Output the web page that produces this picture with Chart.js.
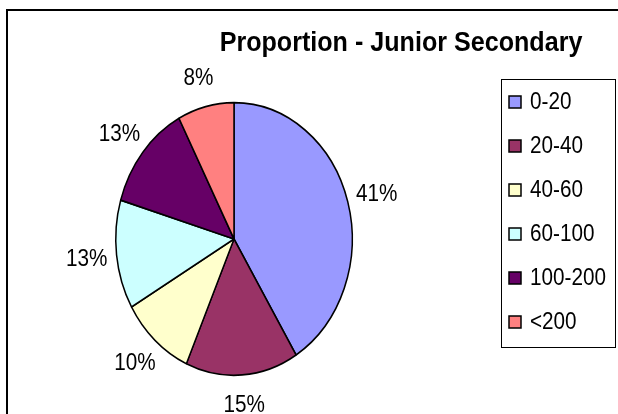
<!DOCTYPE html>
<html>
<head>
<meta charset="utf-8">
<script src="https://cdn.jsdelivr.net/npm/chart.js@4/dist/chart.umd.min.js"></script>
<style>
  html, body { margin: 0; padding: 0; background: #fff; overflow: hidden; }
  #frame
  {
    position: absolute; left: 6px; top: 9px; width: 700px; height: 500px;
    border: 2px solid #000; box-sizing: border-box;
  }
  #grafica { position: absolute; left: 0; top: 0; }
</style>
</head>
<body>
<div id="frame"></div>
<canvas id="grafica" width="618" height="414"></canvas>
<script>
'use strict'

//datos de la grafica
const titulo = 'Proportion - Junior Secondary';
const categorias = [ '0-20', '20-40', '40-60', '60-100', '100-200', '<200' ];
const valores = [ 41.2, 15.4, 10.1, 12.9, 12.7, 7.7 ];
const colores = [ '#9999FF', '#993366', '#FFFFCC', '#CCFFFF', '#660066', '#FF8080' ];

//el pastel es una elipse: escala vertical
const escalaY = 136 / 118;
const fuente = '"Liberation Sans", Arial, sans-serif';

//texto un poco angosto, como en el original
function texto( ctx, str, x, y, escalaX )
{
  ctx.save( );
  ctx.translate( x, y );
  ctx.scale( escalaX, 1 );
  ctx.fillText( str, 0, 0 );
  ctx.restore( );
}

//estiramos el pastel verticalmente
const elipse =
{
  id: 'elipse',
  beforeDatasetsDraw( chart )
  {
    const arco = chart.getDatasetMeta( 0 ).data[ 0 ];
    const ctx = chart.ctx;
    ctx.save( );
    ctx.translate( arco.x, arco.y );
    ctx.scale( 1, escalaY );
    ctx.translate( -arco.x, -arco.y );
  },
  afterDatasetsDraw( chart )
  {
    chart.ctx.restore( );
  }
};

//titulo, porcentajes y leyenda
const textos =
{
  id: 'textos',
  afterDraw( chart )
  {
    const ctx = chart.ctx;
    const total = valores.reduce( ( a, b ) => a + b, 0 );
    ctx.save( );
    ctx.fillStyle = '#000';

    //titulo
    ctx.font = 'bold 27px ' + fuente;
    ctx.textAlign = 'center';
    ctx.textBaseline = 'middle';
    texto( ctx, titulo, 401, 44, 0.93 );

    //porcentajes fuera de cada rebanada
    ctx.font = '23px ' + fuente;
    chart.getDatasetMeta( 0 ).data.forEach( ( arco, i ) =>
    {
      const medio = ( arco.startAngle + arco.endAngle ) / 2;
      const d = 30;
      const x = arco.x + ( arco.outerRadius + d ) * Math.cos( medio );
      const y = arco.y + ( arco.outerRadius * escalaY + d ) * Math.sin( medio );
      const pct = Math.round( valores[ i ] / total * 100 ) + '%';
      texto( ctx, pct, x, y + 1, 0.9 );
    });

    //leyenda
    ctx.strokeStyle = '#000';
    ctx.lineWidth = 1;
    ctx.strokeRect( 501.5, 79.5, 114, 268 );
    ctx.textAlign = 'left';
    categorias.forEach( ( cat, i ) =>
    {
      const y = 102 + i * 44;
      ctx.fillStyle = colores[ i ];
      ctx.fillRect( 509, y - 6, 12, 12 );
      ctx.lineWidth = 1.5;
      ctx.strokeRect( 509, y - 6, 12, 12 );
      ctx.fillStyle = '#000';
      texto( ctx, cat, 530, y + 1, 0.9 );
    });

    ctx.restore( );
  }
};

//creación de la grafica
const grafica = new Chart( document.getElementById( 'grafica' ),
{
  type: 'pie',
  data:
  {
    labels: categorias,
    datasets:
    [
      {
        data: valores,
        backgroundColor: colores,
        borderColor: '#000',
        borderWidth: 1.5
      }
    ]
  },
  options:
  {
    responsive: false,
    animation: false,
    layout: { padding: { left: 115, right: 265, top: 120, bottom: 56 } },
    plugins:
    {
      legend: { display: false },
      title: { display: false },
      tooltip: { enabled: false }
    }
  },
  plugins: [ elipse, textos ]
});
</script>
</body>
</html>
